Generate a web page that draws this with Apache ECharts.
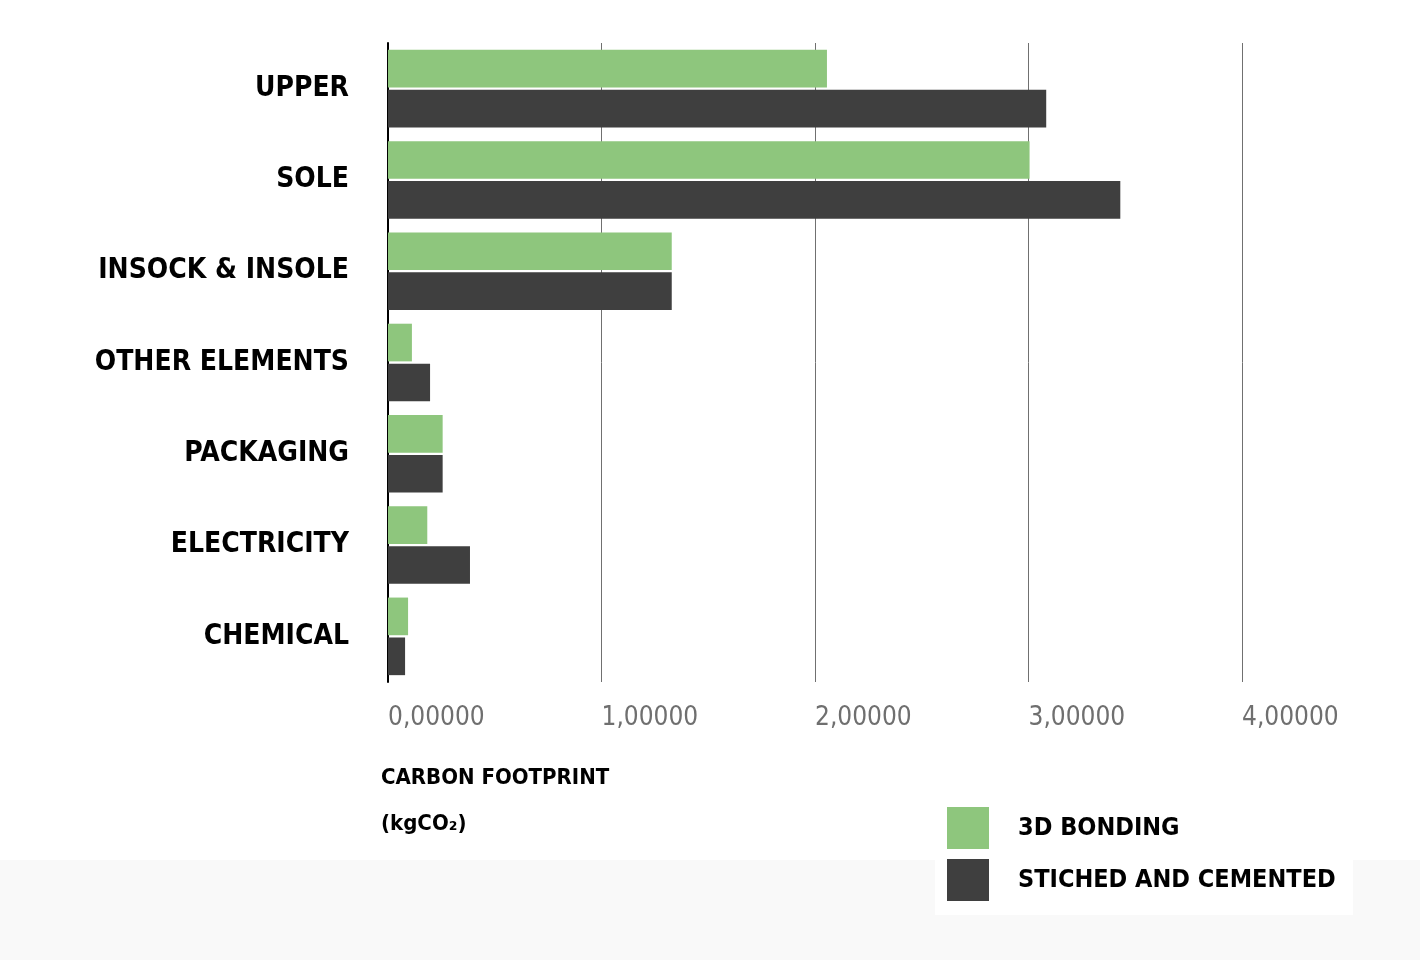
<!DOCTYPE html>
<html>
<head>
<meta charset="utf-8">
<script src="https://cdn.jsdelivr.net/npm/echarts@6/dist/echarts.min.js"></script>
<style>
html,body{margin:0;padding:0;background:#fff;}
#chart{width:1420px;height:960px;}
</style>
</head>
<body>
<div id="chart"></div>
<script>
const categories = ['UPPER', 'SOLE', 'INSOCK & INSOLE', 'OTHER ELEMENTS', 'PACKAGING', 'ELECTRICITY', 'CHEMICAL'];
const bonding3D = [2.056, 3.005, 1.329, 0.112, 0.256, 0.184, 0.094];
const stichedCemented = [3.083, 3.430, 1.329, 0.197, 0.256, 0.384, 0.080];
const seriesNames = ['3D BONDING', 'STICHED AND CEMENTED'];
const xTicks = [0, 1, 2, 3, 4];

const FONT = '"DejaVu Sans Condensed", "Liberation Sans Narrow", sans-serif';
const chart = echarts.init(document.getElementById('chart'));
chart.setOption({
  backgroundColor: '#ffffff',
  animation: false,
  graphic: [
    { type: 'rect', left: 0, top: 860, shape: { width: 1420, height: 100 }, style: { fill: '#f9f9f9' }, z: -10 },
    { type: 'rect', left: 935, top: 795, shape: { width: 418, height: 120 }, style: { fill: '#ffffff' }, z: -5 }
  ],
  title: {
    text: 'CARBON FOOTPRINT\n(kgCO\u2082)',
    left: 381,
    top: 755,
    padding: 0,
    textStyle: { fontFamily: FONT, fontWeight: 'bold', fontSize: 22, color: '#000', lineHeight: 46 }
  },
  legend: {
    orient: 'vertical',
    left: 947,
    top: 807,
    padding: 0,
    itemWidth: 42,
    itemHeight: 42,
    itemGap: 10,
    icon: 'rect',
    data: seriesNames,
    textStyle: { fontFamily: FONT, fontWeight: 'bold', fontSize: 25, color: '#000', padding: [8, 0, 0, 24] }
  },
  grid: { left: 388, right: 178, top: 43, bottom: 278, containLabel: false },
  xAxis: {
    type: 'value',
    min: 0,
    max: 4,
    interval: 1,
    axisLine: { show: false },
    axisTick: { show: false },
    splitLine: { show: true, lineStyle: { color: '#707070', width: 1 } },
    axisLabel: {
      align: 'left',
      margin: 23,
      fontFamily: FONT,
      fontSize: 26,
      color: '#6f6f6f',
      formatter: v => xTicks.includes(v) ? v.toFixed(5).replace('.', ',') : ''
    }
  },
  yAxis: {
    type: 'category',
    data: categories,
    inverse: true,
    axisLine: { show: true, lineStyle: { color: '#000', width: 2 } },
    axisTick: { show: false },
    axisLabel: { margin: 39, fontFamily: FONT, fontWeight: 'bold', fontSize: 28, color: '#000' }
  },
  series: [
    {
      name: seriesNames[0], type: 'bar', data: bonding3D,
      barCategoryGap: '15%', barGap: '6%',
      itemStyle: { color: '#8ec67d' }
    },
    {
      name: seriesNames[1], type: 'bar', data: stichedCemented,
      barCategoryGap: '15%', barGap: '6%',
      itemStyle: { color: '#3f3f3f' }
    }
  ]
});
</script>
</body>
</html>
